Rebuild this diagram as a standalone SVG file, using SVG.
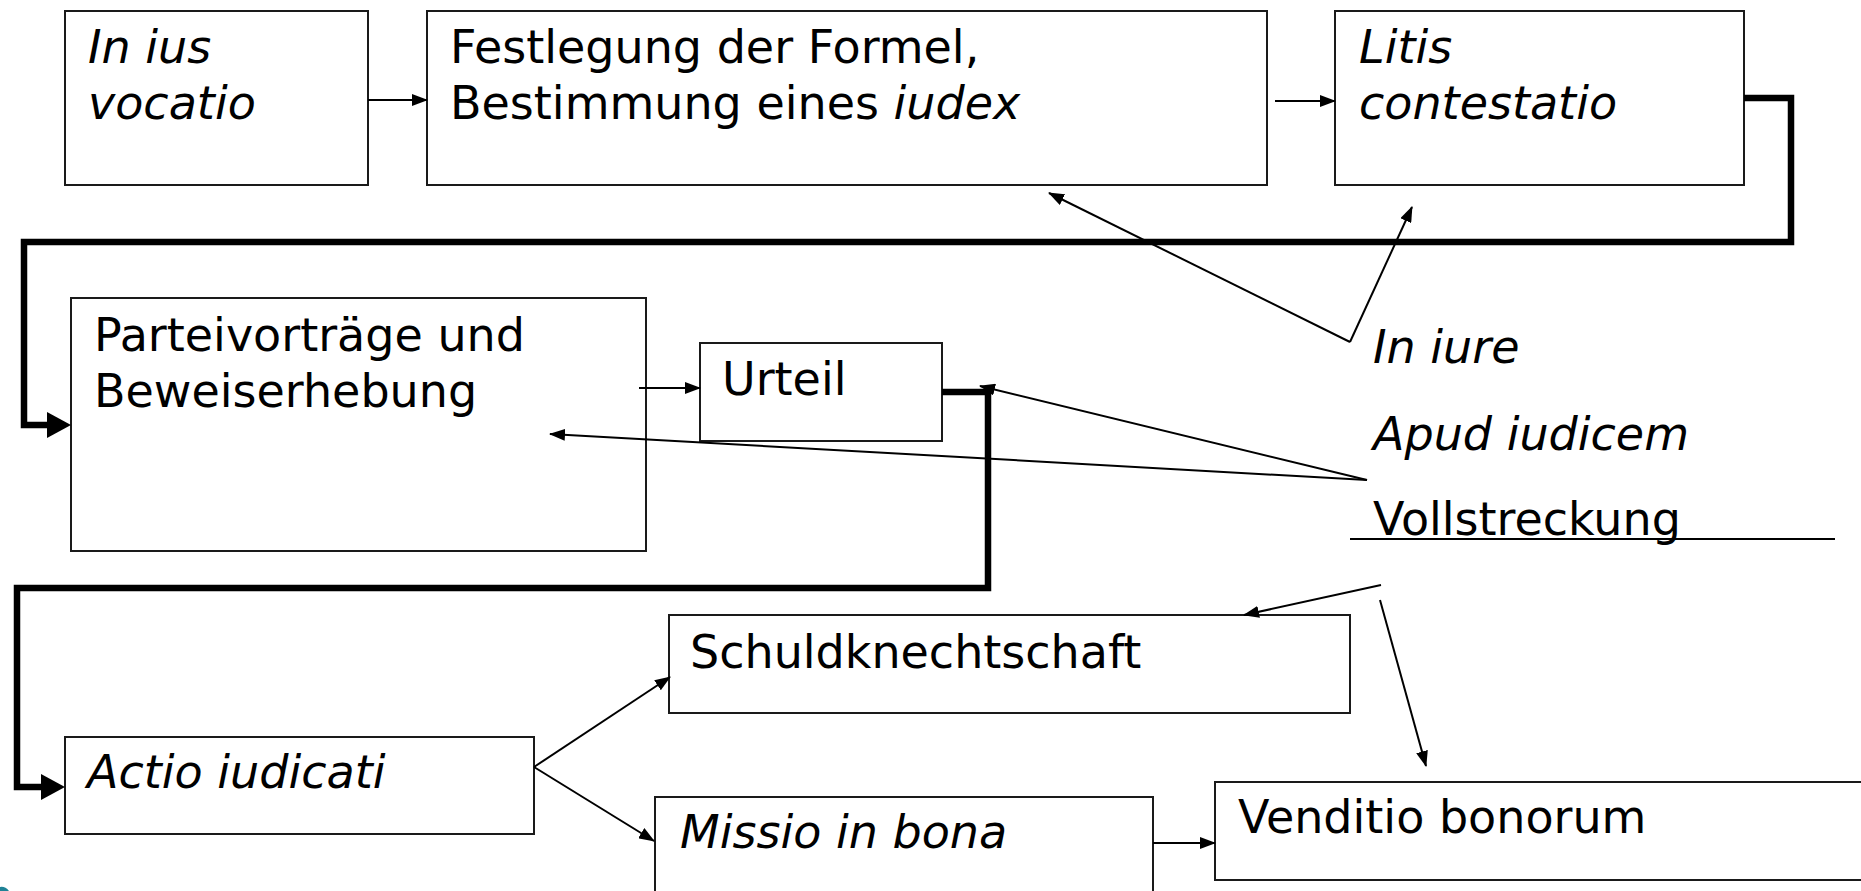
<svg xmlns="http://www.w3.org/2000/svg" width="1861" height="891" viewBox="0 0 1861 891">
<style>
.box{fill:#fff;stroke:#1a1a1a;stroke-width:2}
.t{font-family:"DejaVu Sans","Liberation Sans",sans-serif;font-size:46px;fill:#000}
.i{font-style:italic}
.thin{fill:none;stroke:#000;stroke-width:2;marker-end:url(#ah)}
.thick{fill:none;stroke:#000;stroke-width:6.5;stroke-linejoin:miter;marker-end:url(#ahb)}
.plain{fill:none;stroke:#000;stroke-width:2}
</style>
<defs>
<marker id="ah" markerUnits="userSpaceOnUse" viewBox="0 0 16 12" refX="15" refY="6" markerWidth="16" markerHeight="12" orient="auto">
<path d="M0,0 L16,6 L0,12 z" fill="#000"/>
</marker>
<marker id="ahb" markerUnits="userSpaceOnUse" viewBox="0 0 24 26" refX="4" refY="13" markerWidth="24" markerHeight="26" orient="auto">
<path d="M0,0 L24,13 L0,26 z" fill="#000"/>
</marker>
</defs>
<rect width="1861" height="891" fill="#fff"/>
<g id="n-inius">
<rect class="box" x="65" y="11" width="303" height="174"/>
<text class="t i" x="88" y="63">In ius</text>
<text class="t i" x="88" y="119">vocatio</text>
</g>
<g id="n-festlegung">
<rect class="box" x="427" y="11" width="840" height="174"/>
<text class="t" x="450" y="63">Festlegung der Formel,</text>
<text class="t" x="450" y="119">Bestimmung eines <tspan class="i">iudex</tspan></text>
</g>
<g id="n-litis">
<rect class="box" x="1335" y="11" width="409" height="174"/>
<text class="t i" x="1359" y="63">Litis</text>
<text class="t i" x="1359" y="119">contestatio</text>
</g>
<g id="n-partei">
<rect class="box" x="71" y="298" width="575" height="253"/>
<text class="t" x="94" y="351">Parteivorträge und</text>
<text class="t" x="94" y="407">Beweiserhebung</text>
</g>
<g id="n-urteil">
<rect class="box" x="700" y="343" width="242" height="98"/>
<text class="t" x="722" y="395">Urteil</text>
</g>
<g id="n-phases">
<text class="t i" x="1373" y="363">In iure</text>
<text class="t i" x="1373" y="450">Apud iudicem</text>
<text class="t" x="1373" y="535">Vollstreckung</text>
<line class="plain" x1="1350" y1="539" x2="1835" y2="539"/>
</g>
<g id="n-actio">
<rect class="box" x="65" y="737" width="469" height="97"/>
<text class="t i" x="87" y="788">Actio iudicati</text>
</g>
<g id="n-schuld">
<rect class="box" x="669" y="615" width="681" height="98"/>
<text class="t" x="690" y="668">Schuldknechtschaft</text>
</g>
<g id="n-missio">
<rect class="box" x="655" y="797" width="498" height="100"/>
<text class="t i" x="680" y="848">Missio in bona</text>
</g>
<g id="n-venditio">
<rect class="box" x="1215" y="782" width="660" height="98"/>
<text class="t" x="1238" y="833">Venditio bonorum</text>
</g>
<g id="connectors">
<path class="thin" d="M368,100 H427"/>
<path class="thin" d="M1275,101 H1335"/>
<path class="thin" d="M639,388 H700"/>
<path class="thick" d="M1744,98 H1791 V242 H24 V425 H51"/>
<path class="thick" d="M942,392 H988 V588 H17 V787 H45"/>
<path class="thin" d="M1350,342 L1049,193"/>
<path class="thin" d="M1350,342 L1412,207"/>
<path class="thin" d="M1367,480 L980,386"/>
<path class="thin" d="M1367,480 L550,434"/>
<path class="thin" d="M1381,585 L1244,615"/>
<path class="thin" d="M1380,600 L1426,766"/>
<path class="thin" d="M534,767 L670,677"/>
<path class="thin" d="M534,767 L654,841"/>
<path class="thin" d="M1153,843 H1215"/>
</g>
<path d="M0,887 Q5,886 9,891 H0 z" fill="#1f8296"/>
</svg>
